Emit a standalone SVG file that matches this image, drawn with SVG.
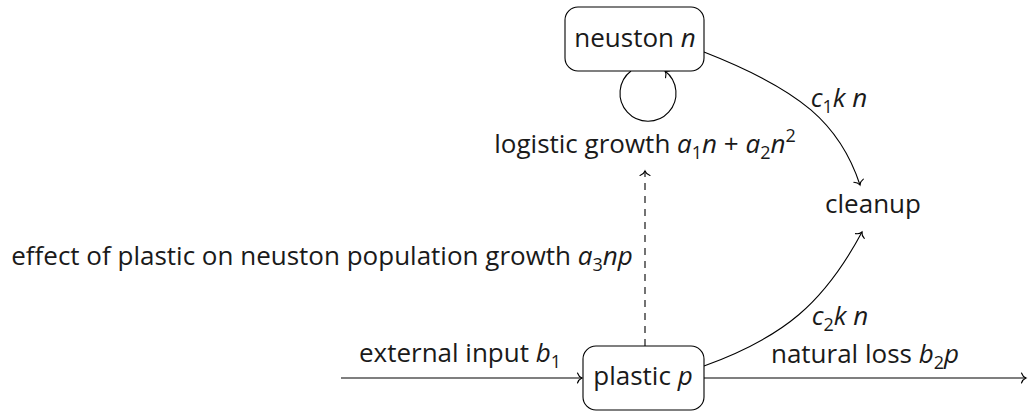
<svg xmlns="http://www.w3.org/2000/svg" width="1033" height="411" viewBox="0 0 1033 411">
<defs>
<style>
.t{font-family:"Open Sans","DejaVu Sans",sans-serif;font-size:26px;fill:#1a1a1a;text-anchor:middle}
.i{font-style:italic}
.s{font-size:18px}
.box{fill:#fff;stroke:#000;stroke-width:1.1}
.e{fill:none;stroke:#000;stroke-width:1.1}
.d{stroke-dasharray:7 6}
</style>
<marker id="ah" markerUnits="userSpaceOnUse" markerWidth="12" markerHeight="12" viewBox="-6 -6 12 12" refX="0" refY="0" orient="auto" overflow="visible">
<path d="M-4.5,-5 C-3.5,-2 -1.5,-0.6 0,0 C-1.5,0.6 -3.5,2 -4.5,5" fill="none" stroke="#000" stroke-width="1.1" stroke-linecap="round"/>
</marker>
</defs>
<rect width="1033" height="411" fill="#fff"/>
<g id="connectors">
<path class="e" d="M631,71 A28,28 0 1 0 665,71" marker-end="url(#ah)"/>
<path class="e" d="M704,52 C801,90 840,124 860,185" marker-end="url(#ah)"/>
<path class="e" d="M704,366 C784,337 824,303 862,232" marker-end="url(#ah)"/>
<path class="e d" d="M645,346 V171" marker-end="url(#ah)"/>
<path class="e" d="M341,378 H582" marker-end="url(#ah)"/>
<path class="e" d="M704,378 H1026" marker-end="url(#ah)"/>
</g>
<g id="neuston">
<rect class="box" x="565" y="7" width="139" height="64" rx="13"/>
<text class="t" x="635" y="47">neuston <tspan class="i">n</tspan></text>
</g>
<g id="plastic">
<rect class="box" x="583" y="346" width="121" height="64" rx="13"/>
<text class="t" x="643" y="385">plastic <tspan class="i">p</tspan></text>
</g>
<g id="cleanup">
<text class="t" x="873" y="213">cleanup</text>
</g>
<g id="labels">
<text class="t" x="645" y="153">logistic growth <tspan class="i">a</tspan><tspan class="s" dy="6">1</tspan><tspan class="i" dy="-6">n</tspan> + <tspan class="i">a</tspan><tspan class="s" dy="6">2</tspan><tspan class="i" dy="-6">n</tspan><tspan class="s" dy="-11">2</tspan></text>
<text class="t" x="839" y="107"><tspan class="i">c</tspan><tspan class="s" dy="6">1</tspan><tspan class="i" dy="-6">k n</tspan></text>
<text class="t" x="840" y="325"><tspan class="i">c</tspan><tspan class="s" dy="6">2</tspan><tspan class="i" dy="-6">k n</tspan></text>
<text class="t" x="322" y="265">effect of plastic on neuston population growth <tspan class="i">a</tspan><tspan class="s" dy="6">3</tspan><tspan class="i" dy="-6">np</tspan></text>
<text class="t" x="460" y="362">external input <tspan class="i">b</tspan><tspan class="s" dy="6">1</tspan></text>
<text class="t" x="865" y="363">natural loss <tspan class="i">b</tspan><tspan class="s" dy="6">2</tspan><tspan class="i" dy="-6">p</tspan></text>
</g>
</svg>
